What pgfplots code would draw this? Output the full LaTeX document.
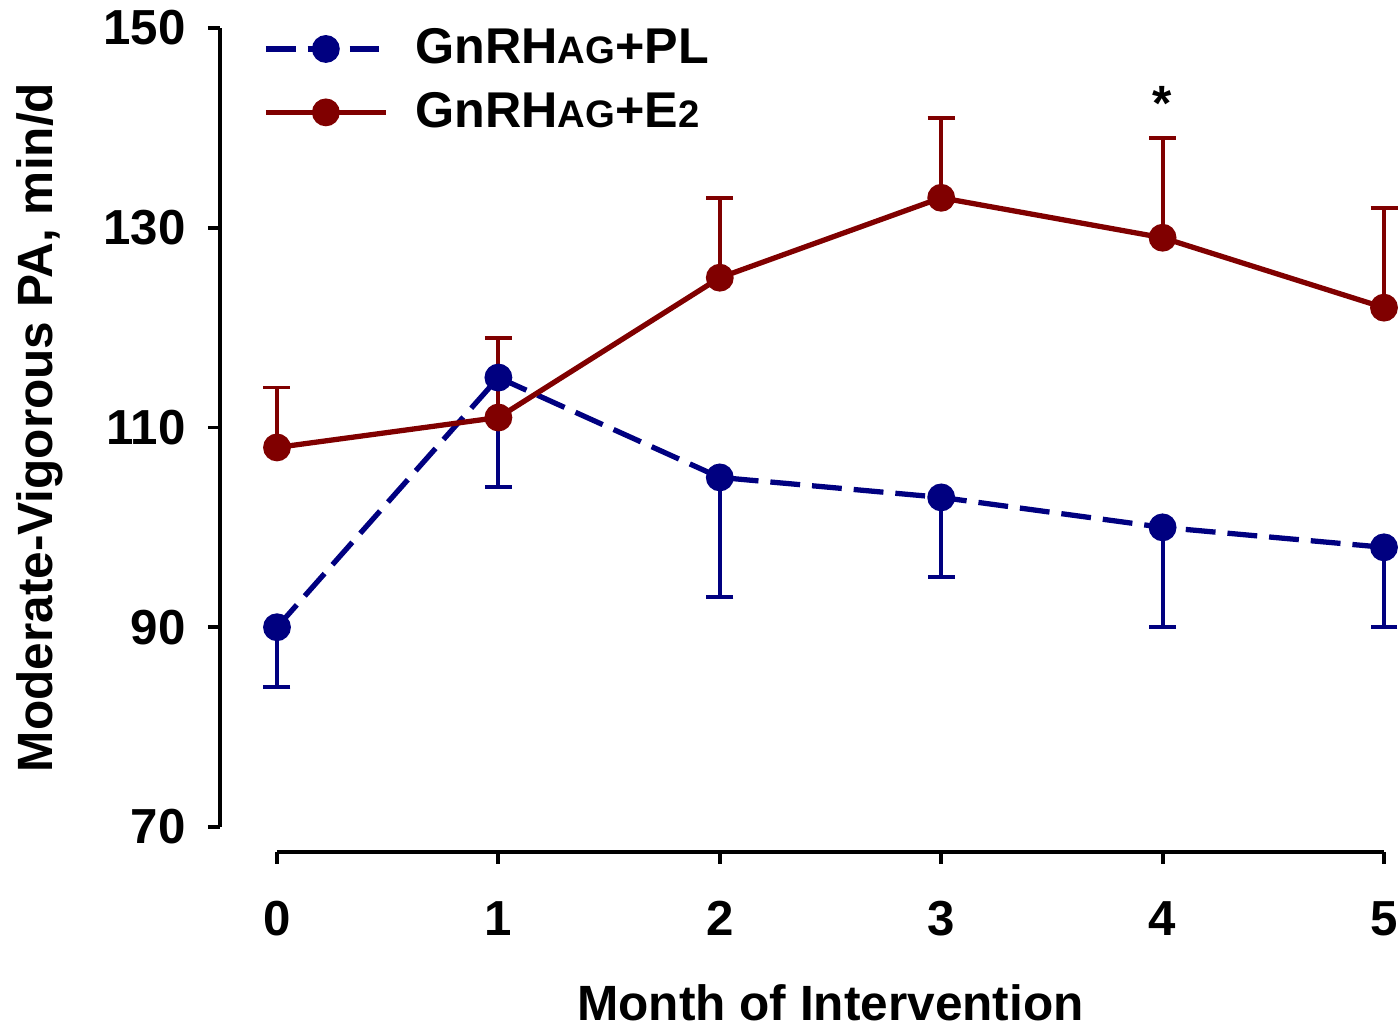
\documentclass[border=0pt]{standalone}
\usepackage{pgfplots}
\pgfplotsset{compat=1.18}
\usepackage{fontspec}
\setmainfont{Liberation Sans}
\definecolor{plblue}{RGB}{0,0,128}
\definecolor{e2red}{RGB}{128,0,0}
\newcommand{\ag}{{\fontsize{10.9}{12}\selectfont AG}}
\begin{document}
\begin{tikzpicture}
\begin{axis}[
  scale only axis, width=11.07cm, height=7.99cm,
  xmin=0, xmax=5, ymin=70, ymax=150,
  axis x line=bottom, axis y line=left,
  axis x line shift=0.25cm, axis y line shift=0.57cm,
  axis line style={-, line width=1.1pt, black},
  xtick={0,1,2,3,4,5}, ytick={70,90,110,130,150},
  tick style={line width=1.1pt, black},
  tick align=outside, major tick length=0.12cm,
  minor tick num=0,
  clip=false,
  /pgf/number format/assume math mode=true,
  ticklabel style={font=\fontsize{14}{16}\selectfont\bfseries},
  xticklabel style={yshift=-0.25cm},
  yticklabel style={xshift=-0.1cm},
  every axis x label/.style={at={(axis cs:2.5,70)}, yshift=-1.76cm, anchor=center, font=\fontsize{14.1}{16}\selectfont\bfseries},
  every axis y label/.style={at={(axis cs:0,110)}, xshift=-2.37cm, rotate=90, anchor=center, font=\fontsize{14.1}{16}\selectfont\bfseries},
  xlabel={Month of Intervention},
  ylabel={Moderate-Vigorous PA, min/d},
  legend style={at={(axis cs:-0.113,151.4)}, anchor=north west, draw=none, fill=none,
    font=\fontsize{14.3}{16}\selectfont\bfseries, row sep=0.09cm,
    /tikz/every odd column/.append style={column sep=0.2cm}},
  legend cell align=left,
  legend image code/.code={\draw[mark repeat=2,mark phase=2,#1] plot coordinates {(0cm,0cm) (0.6cm,0cm) (1.2cm,0cm)};},
  error bars/error bar style={solid, line width=1.1pt},
  error bars/error mark options={solid, line width=1.1pt, mark size=0.135cm, rotate=90},
]
\addplot[plblue, line width=1.5pt, dash pattern=on 8.5pt off 3.4pt,
  mark=*, mark size=3.2pt, mark options={solid, fill=plblue},
  error bars/.cd, y dir=minus, y explicit]
  coordinates {
  (0,90) -= (0,6)
  (1,115) -= (0,11)
  (2,105) -= (0,12)
  (3,103) -= (0,8)
  (4,100) -= (0,10)
  (5,98) -= (0,8)
  };
\addlegendentry{GnRH\ag+PL}
\addplot[e2red, line width=1.5pt,
  mark=*, mark size=3.2pt, mark options={solid, fill=e2red},
  error bars/.cd, y dir=plus, y explicit]
  coordinates {
  (0,108) += (0,6)
  (1,111) += (0,8)
  (2,125) += (0,8)
  (3,133) += (0,8)
  (4,129) += (0,10)
  (5,122) += (0,10)
  };
\addlegendentry{GnRH\ag+E{\fontsize{10.9}{12}\selectfont 2}}
\node[font=\fontsize{14.1}{16}\selectfont\bfseries] at (axis cs:4,142.4) {*};
\coordinate (O) at (axis cs:0,70);
\end{axis}
\pgfresetboundingbox
\path ([shift={(-2.77cm,-1.99cm)}]O) rectangle ([shift={(11.22cm,8.27cm)}]O);
\end{tikzpicture}
\end{document}
